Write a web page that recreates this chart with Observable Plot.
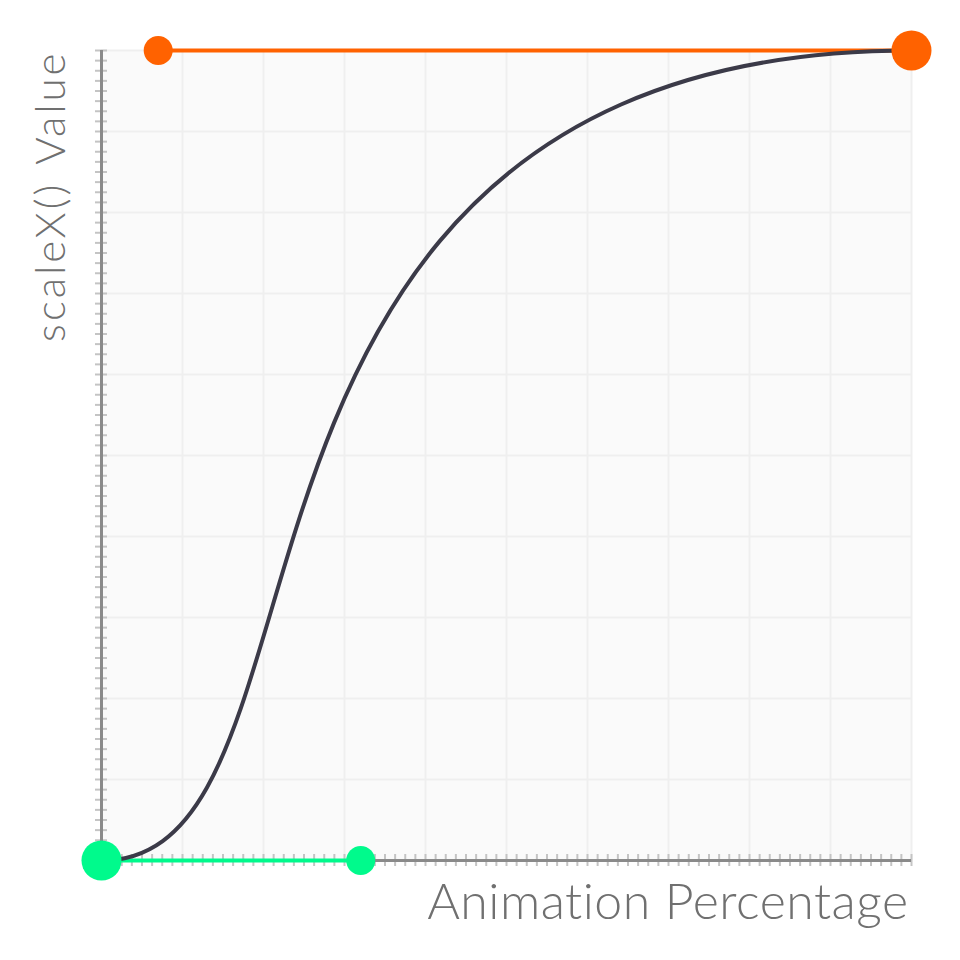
<!DOCTYPE html>
<html>
<head>
<meta charset="utf-8">
<script src="https://cdn.jsdelivr.net/npm/d3@7"></script>
<script src="https://cdn.jsdelivr.net/npm/@observablehq/plot@0.6"></script>
<style>
  html, body { margin: 0; padding: 0; background: #fff; }
  svg { display: block; }
</style>
</head>
<body>
<div id="chart"></div>
<script>
// Cubic-bezier easing: control points P0..P3 (x = animation %, y = scaleX value)
const controlX = [0, 0.32, 0.07, 1];
const controlY = [0, 0, 1, 1];
const gridTicks = [0, 0.1, 0.2, 0.3, 0.4, 0.5, 0.6, 0.7, 0.8, 0.9, 1];
const minorTicks = d3.range(0, 81).map(i => i / 80);
const xLabel = "Animation Percentage";
const yLabel = "scaleX() Value";

const points = controlX.map((x, i) => ({x, y: controlY[i], i}));
const startHandle = [points[0], points[1]];
const endHandle = [points[3], points[2]];
const anchors = [points[0], points[3]];
const handles = [points[1], points[2]];

// custom curve: draws one cubic bezier through the 4 control points
function bezierCurve(context) {
  let pts = [];
  return {
    areaStart() {}, areaEnd() {},
    lineStart() { pts = []; },
    point(x, y) { pts.push([+x, +y]); },
    lineEnd() {
      const [p0, p1, p2, p3] = pts;
      context.moveTo(p0[0], p0[1]);
      context.bezierCurveTo(p1[0], p1[1], p2[0], p2[1], p3[0], p3[1]);
    }
  };
}

const GREEN = "#00fa8c", ORANGE = "#ff6200", CURVE = "#3b3a48", TEXT = "#707070";
const font = "Lato, 'Open Sans', sans-serif";

const chart = Plot.plot({
  width: 960,
  height: 960,
  marginLeft: 101,
  marginRight: 49,
  marginTop: 50,
  marginBottom: 100,
  style: {background: "#fff", overflow: "visible"},
  x: {domain: [0, 1], axis: null},
  y: {domain: [0, 1], axis: null},
  marks: [
    Plot.frame({fill: "#fafafa", stroke: null}),
    Plot.gridX(gridTicks, {stroke: "#efefef", strokeOpacity: 1, strokeWidth: 2}),
    Plot.gridY(gridTicks, {stroke: "#efefef", strokeOpacity: 1, strokeWidth: 2}),
    Plot.axisX(minorTicks, {tickSize: 12, dy: -6, tickFormat: () => "", label: null, stroke: "#c4c4c4", strokeWidth: 2}),
    Plot.axisY(minorTicks, {tickSize: 12, dx: 6, tickFormat: () => "", label: null, stroke: "#c4c4c4", strokeWidth: 2}),
    Plot.ruleX([0], {stroke: "#8a8a8a", strokeWidth: 3}),
    Plot.ruleY([0], {stroke: "#8a8a8a", strokeWidth: 3}),
    Plot.line(startHandle, {x: "x", y: "y", stroke: GREEN, strokeWidth: 4}),
    Plot.line(endHandle, {x: "x", y: "y", stroke: ORANGE, strokeWidth: 4}),
    Plot.line(points, {x: "x", y: "y", stroke: CURVE, strokeWidth: 4, curve: bezierCurve}),
    Plot.dot(anchors, {x: "x", y: "y", r: 20, fill: d => d.i === 0 ? GREEN : ORANGE, stroke: null}),
    Plot.dot(handles, {x: "x", y: "y", r: 14.5, fill: d => d.i === 1 ? GREEN : ORANGE, stroke: null}),
    Plot.text([xLabel], {frameAnchor: "bottom-right", text: d => d, textAnchor: "end", lineAnchor: "bottom",
      dx: -3, dy: 58, fontSize: 50, fontWeight: 300, fill: TEXT, fontFamily: font}),
    Plot.text([yLabel], {frameAnchor: "top-left", text: d => d, textAnchor: "end", lineAnchor: "bottom",
      rotate: -90, dx: -37, dy: 0, fontSize: 42, fontWeight: 300, fill: TEXT, fontFamily: font})
  ]
});
d3.select(chart).selectAll("text").filter(function() { return this.textContent === xLabel; })
  .style("letter-spacing", "0.5px");
d3.select(chart).selectAll("text").filter(function() { return this.textContent === yLabel; })
  .style("letter-spacing", "3px").style("word-spacing", "4px");
document.getElementById("chart").appendChild(chart);
</script>
</body>
</html>
